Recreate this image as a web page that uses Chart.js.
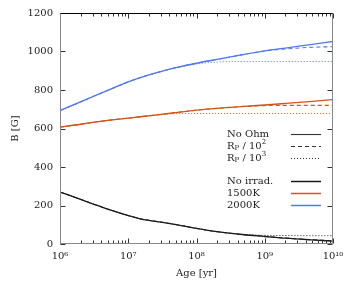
<!DOCTYPE html>
<html><head><meta charset="utf-8">
<script src="https://cdn.jsdelivr.net/npm/chart.js@4/dist/chart.umd.min.js"></script>
<style>html,body{margin:0;padding:0;background:#fff}#wrap{width:354px;height:283px}</style>
</head><body><div id="wrap"><canvas id="c" width="354" height="283"></canvas></div>
<script>
const ages = [1e6,2e6,3e6,5e6,1e7,1.5e7,2e7,3e7,5e7,1e8,2e8,5e8,1e9,2e9,5e9,1e10];
const noIrradSolid  = [270,232,209,181,148,131,123,114,101,81,64,48,39,30,21,15];
const noIrradDashed = [270,232,209,181,148,131,123,114,101,81,64,48,40,31,22,17];
const noIrradDotted = [270,232,209,181,148,131,123,114,101,81,64,50,45,44,43,43];
const k1500Solid  = [607,622,632,642,654,661,666,673,683,695,705,715,722,730,741,750];
const k1500Dashed = [607,622,632,642,654,661,666,673,683,695,705,715,719,720,720,720];
const k1500Dotted = [607,622,632,642,654,661,666,673,677,678,678,678,678,678,678,678];
const k2000Solid  = [693,738,765,798,842,864,878,896,916,939,959,985,1003,1018,1037,1052];
const k2000Dashed = [693,738,765,798,842,864,878,896,916,939,959,985,1003,1013,1022,1025];
const k2000Dotted = [693,738,765,798,842,864,878,896,916,935,945,948,948,948,948,948];
const xTickValues = [1e6,1e7,1e8,1e9,1e10];
const xTickLabels = ['10\u2076','10\u2077','10\u2078','10\u2079','10\u00b9\u2070'];
const yTickValues = [0,200,400,600,800,1000,1200];
const styleLabels = ['No Ohm','RP / 10^2','RP / 10^3'];
const modelLabels = ['No irrad.','1500K','2000K'];

const BLACK = '#1a1a1a', ORANGE = '#d4521c', BLUE = '#5078ec';
const FONT = "'DejaVu Serif', serif";
const DASH = [4,3], DOT = [1,2];

function ds(ys, color, dash, width){
  return {data: ages.map((a,i)=>({x:a,y:ys[i]})), borderColor:color, borderWidth:width||1.2,
    borderDash:dash||[], pointRadius:0, fill:false, cubicInterpolationMode:'monotone'};
}

const frameTicks = {
  id:'frameTicks',
  afterDatasetsDraw(chart){
    const {ctx, chartArea:a, scales:{x,y}} = chart;
    ctx.save();
    ctx.lineWidth = 1;
    const L=Math.round(a.left)+0.5, R=Math.round(a.right)-0.5, T=Math.round(a.top)+0.5, B=Math.round(a.bottom)-0.5;
    ctx.strokeStyle = '#333';
    for (let e=6;e<=10;e++){
      for (let m=1;m<=9;m++){
        const v=m*Math.pow(10,e); if (v>1e10) break;
        const px=Math.round(x.getPixelForValue(v))+0.5;
        const len = m===1?5:3;
        ctx.beginPath(); ctx.moveTo(px,B); ctx.lineTo(px,B-len); ctx.moveTo(px,T); ctx.lineTo(px,T+len); ctx.stroke();
      }
    }
    yTickValues.forEach(v=>{
      const py=Math.round(y.getPixelForValue(v))+0.5;
      ctx.beginPath(); ctx.moveTo(L,py); ctx.lineTo(L+5,py); ctx.moveTo(R,py); ctx.lineTo(R-5,py); ctx.stroke();
    });
    ctx.strokeStyle = '#888';
    ctx.beginPath(); ctx.moveTo(L,T); ctx.lineTo(L,B); ctx.lineTo(R,B); ctx.lineTo(R,T); ctx.stroke();
    ctx.strokeStyle = '#000';
    ctx.beginPath(); ctx.moveTo(L,T); ctx.lineTo(R,T); ctx.stroke();
    ctx.restore();
  }
};

function drawLabel(ctx, text, x, y){
  ctx.font = "10px "+FONT;
  if (text.startsWith('RP')){
    const exp = text.split('^')[1];
    let cx = x;
    ctx.font = "10px "+FONT; ctx.fillText('R', cx, y); cx += ctx.measureText('R').width;
    ctx.font = "7px "+FONT; ctx.fillText('P', cx, y+2); cx += ctx.measureText('P').width;
    ctx.font = "10px "+FONT; ctx.fillText(' / 10', cx, y); cx += ctx.measureText(' / 10').width;
    ctx.font = "7px "+FONT; ctx.fillText(exp, cx, y-4);
  } else {
    ctx.fillText(text, x, y);
  }
}

const legendPlugin = {
  id:'customLegend',
  afterDraw(chart){
    const ctx = chart.ctx;
    ctx.save();
    ctx.fillStyle = '#222';
    ctx.textBaseline = 'middle';
    ctx.textAlign = 'left';
    const tx = 227, lx0 = 291, lx1 = 321;
    const rows1 = [134,146,158], rows2 = [181,193,205];
    const dashes = [[],DASH,DOT];
    styleLabels.forEach((t,i)=>{
      drawLabel(ctx,t,tx,rows1[i]);
      ctx.strokeStyle = '#333'; ctx.lineWidth = 1.1; ctx.setLineDash(dashes[i]);
      ctx.beginPath(); ctx.moveTo(lx0,rows1[i]+0.5); ctx.lineTo(lx1,rows1[i]+0.5); ctx.stroke();
    });
    const cols = [BLACK,ORANGE,BLUE];
    modelLabels.forEach((t,i)=>{
      drawLabel(ctx,t,tx,rows2[i]);
      ctx.strokeStyle = cols[i]; ctx.lineWidth = 1.5; ctx.setLineDash([]);
      ctx.beginPath(); ctx.moveTo(lx0,rows2[i]+0.5); ctx.lineTo(lx1,rows2[i]+0.5); ctx.stroke();
    });
    ctx.restore();
  }
};

new Chart(document.getElementById('c'), {
  type:'line',
  data:{datasets:[
    ds(noIrradDotted,BLACK,DOT,1), ds(noIrradDashed,BLACK,DASH,1), ds(noIrradSolid,BLACK,[],1.3),
    ds(k1500Dotted,ORANGE,DOT,1), ds(k1500Dashed,ORANGE,DASH,1.1), ds(k1500Solid,ORANGE,[],1.3),
    ds(k2000Dotted,BLUE,DOT,1), ds(k2000Dashed,BLUE,DASH,1.1), ds(k2000Solid,BLUE,[],1.3)
  ]},
  options:{
    responsive:false, animation:false, devicePixelRatio:1,
    layout:{padding:{left:0,right:21,top:12,bottom:0}},
    plugins:{legend:{display:false}, tooltip:{enabled:false}},
    scales:{
      x:{type:'logarithmic', min:1e6, max:1e10,
        grid:{display:false, drawTicks:false}, border:{display:false},
        afterBuildTicks(s){ s.ticks = xTickValues.map(v=>({value:v})); },
        afterFit(s){ s.height = 39; },
        ticks:{autoSkip:false, maxRotation:0, padding:6, color:'#222', font:{family:FONT,size:10},
          callback(v){ const i = xTickValues.indexOf(v); return i>=0 ? xTickLabels[i] : ''; }},
        title:{display:true, text:'Age [yr]', color:'#222', font:{family:FONT,size:10}, padding:{top:0,bottom:4}}
      },
      y:{min:0, max:1200,
        grid:{display:false, drawTicks:false}, border:{display:false},
        afterBuildTicks(s){ s.ticks = yTickValues.map(v=>({value:v})); },
        afterFit(s){ s.width = 60; },
        ticks:{padding:7, color:'#222', font:{family:FONT,size:10}, callback(v){ return String(v); }},
        title:{display:true, text:'B [G]', color:'#222', font:{family:FONT,size:10}, padding:{top:9,bottom:0}}
      }
    }
  },
  plugins:[frameTicks, legendPlugin]
});
</script></body></html>
